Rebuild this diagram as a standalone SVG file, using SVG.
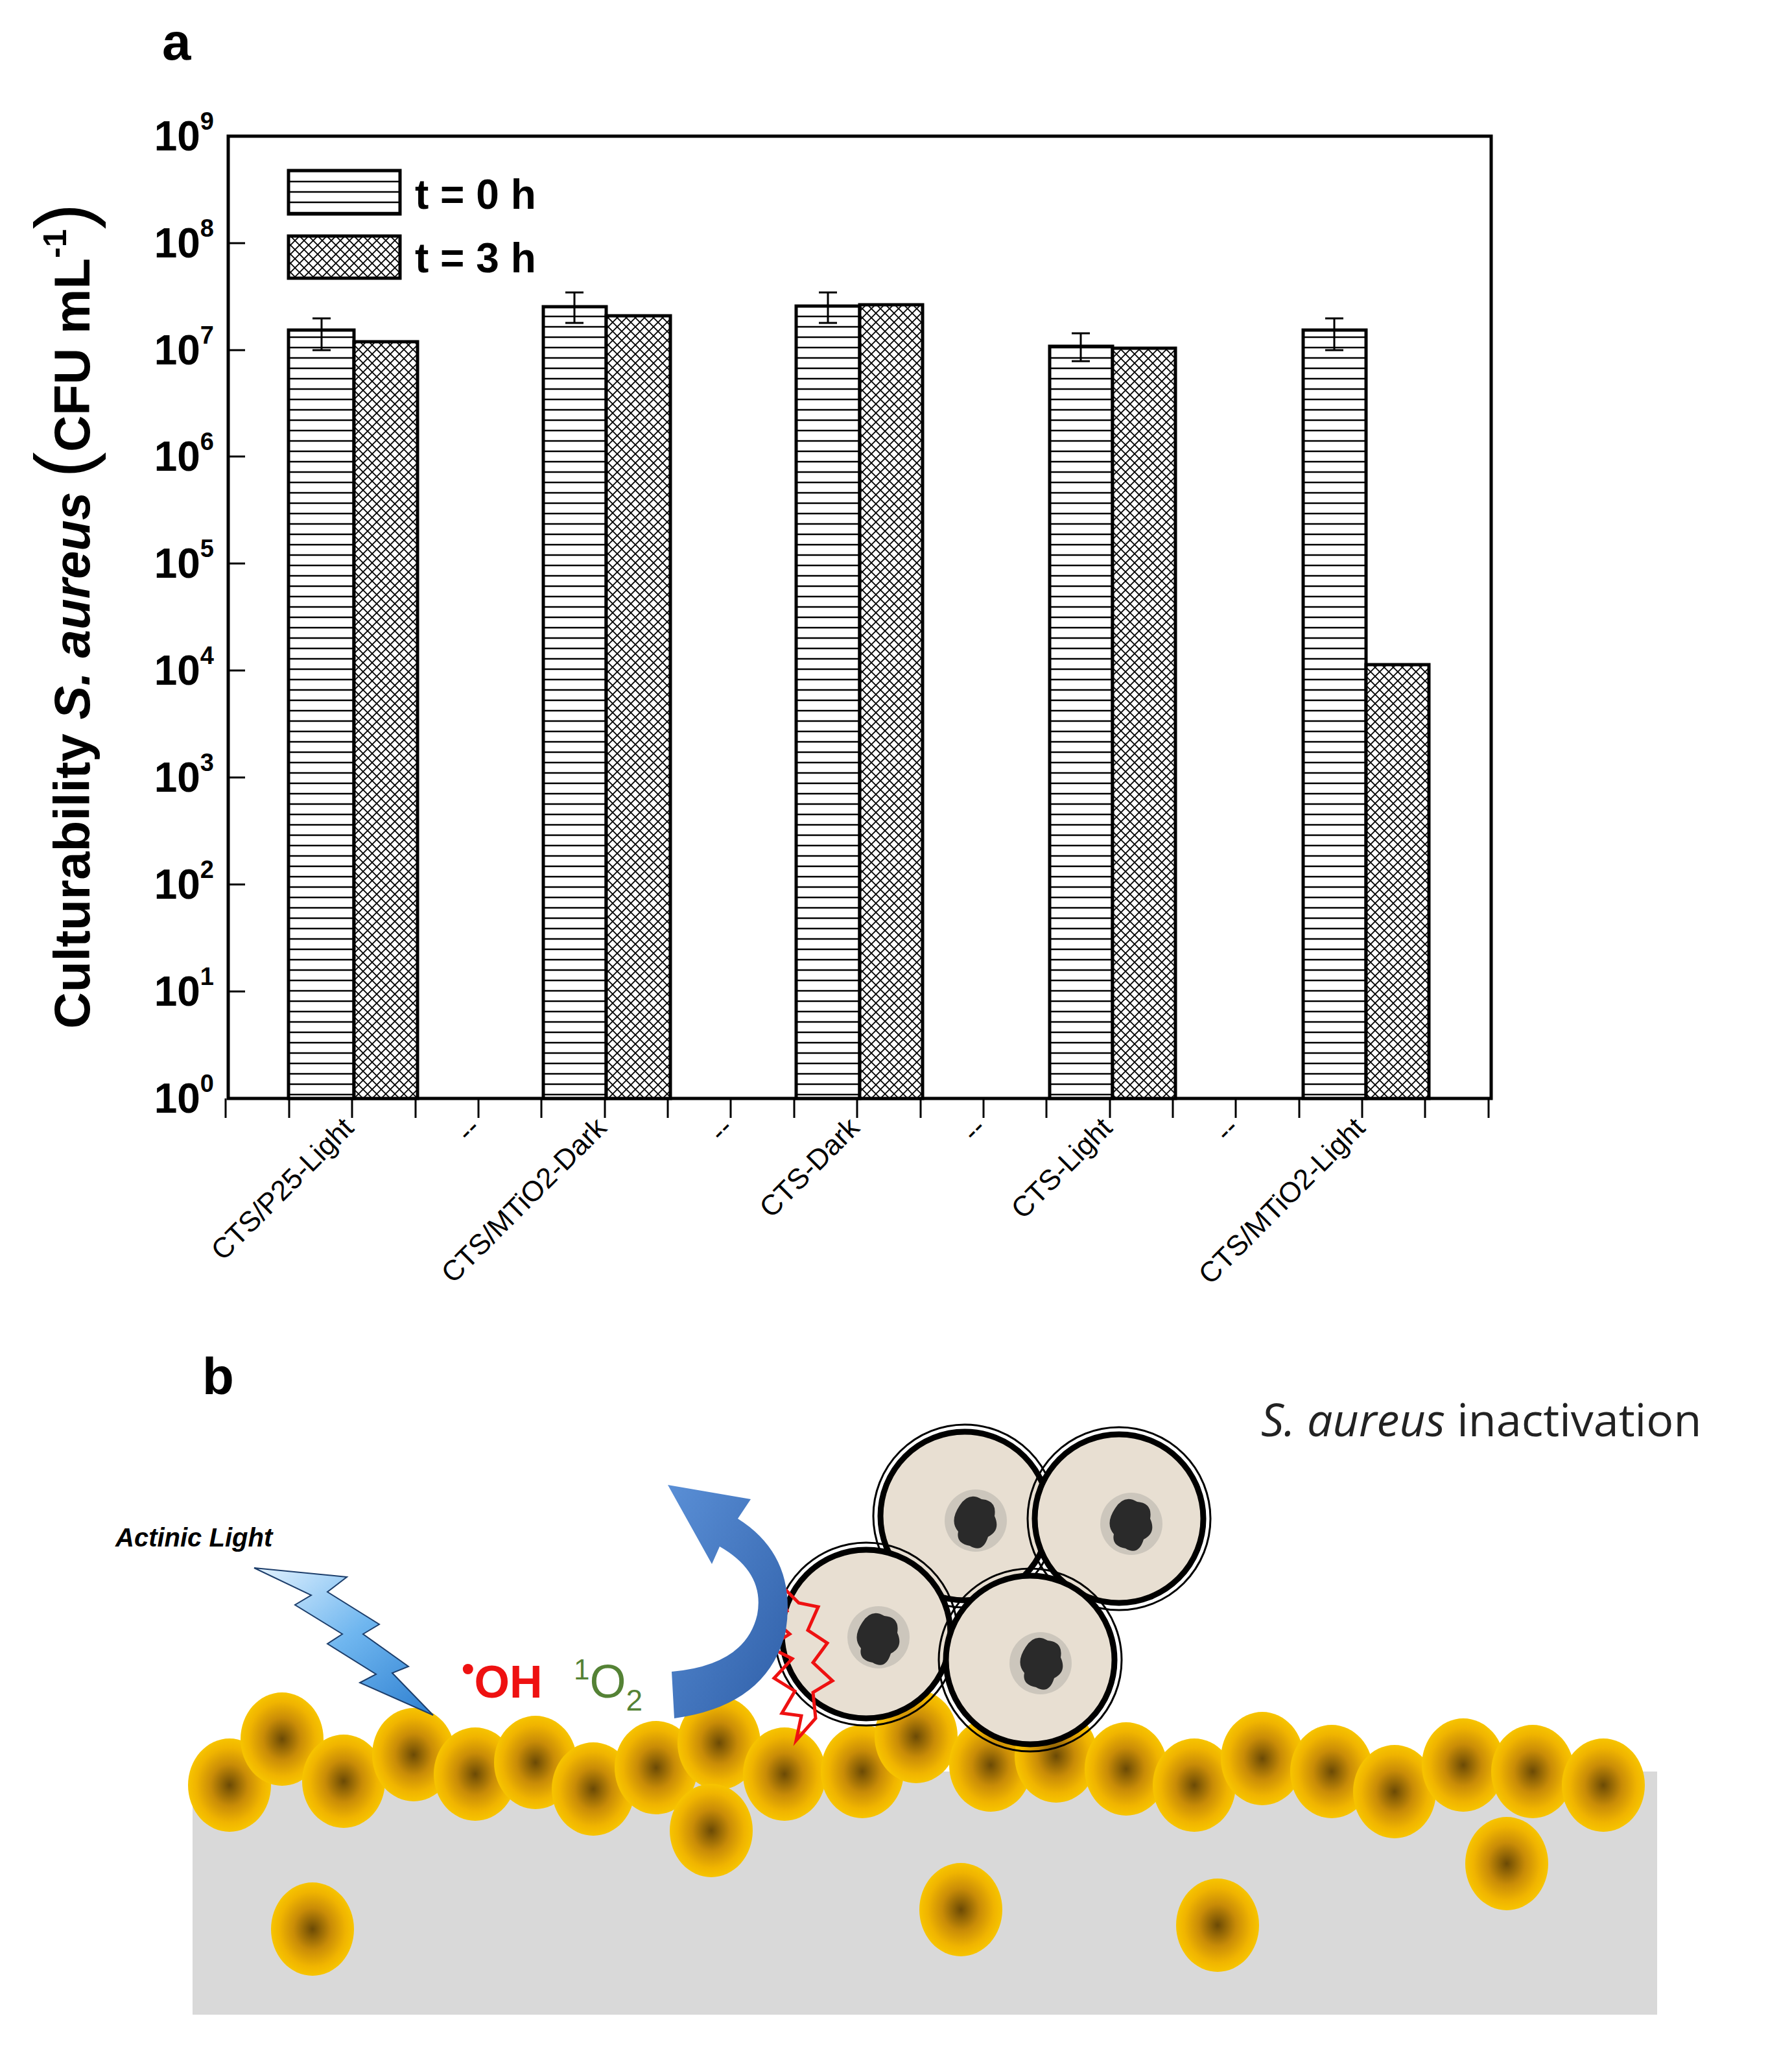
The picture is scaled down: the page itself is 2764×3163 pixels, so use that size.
<svg xmlns="http://www.w3.org/2000/svg" width="2764" height="3163" viewBox="0 0 2764 3163">
<style>
.ax{stroke:#000;stroke-width:5;fill:none}
.tk{stroke:#000;stroke-width:3}
.bar{stroke:#000;stroke-width:5}
.h{fill:url(#hor)}
.x{fill:url(#cross)}
.eb{stroke:#000;stroke-width:3;fill:none}
.yl{font-family:"Liberation Sans",Arial,sans-serif;font-weight:bold;font-size:64px;text-anchor:end}
.sup{font-size:38px}
.xl{font-family:"Liberation Sans",Arial,sans-serif;font-size:44px;text-anchor:end}
.sp{fill:url(#gold)}
.cell{fill:#e8dfd2;stroke:#000;stroke-width:9}
.ring{fill:none;stroke:#000;stroke-width:3}
.nuc{fill:#2a2a2a}
.halo{fill:#b9b5ae;opacity:0.6}
</style>
<defs>
<pattern id="hor" width="20" height="16" patternUnits="userSpaceOnUse"><rect width="20" height="16" fill="#fff"/><line x1="0" y1="8" x2="20" y2="8" stroke="#000" stroke-width="2.5"/></pattern>
<pattern id="cross" width="14" height="14" patternUnits="userSpaceOnUse"><rect width="14" height="14" fill="#fff"/><path d="M0 0L14 14M14 0L0 14" stroke="#000" stroke-width="1.8"/></pattern>
<radialGradient id="gold"><stop offset="0" stop-color="#6b4a05"/><stop offset="0.45" stop-color="#c98c07"/><stop offset="0.8" stop-color="#f0b400"/><stop offset="1" stop-color="#f7c400"/></radialGradient>
<linearGradient id="bolt" x1="0" y1="0" x2="1" y2="1"><stop offset="0" stop-color="#e4f3ff"/><stop offset="0.5" stop-color="#6fb6ef"/><stop offset="1" stop-color="#2e7fd0"/></linearGradient>
<linearGradient id="arr" x1="0" y1="0" x2="1" y2="1"><stop offset="0" stop-color="#5a8fd6"/><stop offset="1" stop-color="#2f5fa8"/></linearGradient>
</defs>
<rect width="2764" height="3163" fill="#fff"/>

<g id="chart">
<text x="250" y="92" font-family="Liberation Sans,Arial,sans-serif" font-weight="bold" font-size="80">a</text>
<rect class="ax" x="352" y="210" width="1948" height="1484"/>
<g id="yticks">
<path class="tk" d="M352 210h26M352 375h26M352 540h26M352 704h26M352 869h26M352 1034h26M352 1199h26M352 1364h26M352 1529h26"/>
</g>
<g id="ylabels">
<text class="yl" x="330" y="232">10<tspan class="sup" dy="-32">9</tspan></text>
<text class="yl" x="330" y="397">10<tspan class="sup" dy="-32">8</tspan></text>
<text class="yl" x="330" y="562">10<tspan class="sup" dy="-32">7</tspan></text>
<text class="yl" x="330" y="726">10<tspan class="sup" dy="-32">6</tspan></text>
<text class="yl" x="330" y="891">10<tspan class="sup" dy="-32">5</tspan></text>
<text class="yl" x="330" y="1056">10<tspan class="sup" dy="-32">4</tspan></text>
<text class="yl" x="330" y="1221">10<tspan class="sup" dy="-32">3</tspan></text>
<text class="yl" x="330" y="1386">10<tspan class="sup" dy="-32">2</tspan></text>
<text class="yl" x="330" y="1551">10<tspan class="sup" dy="-32">1</tspan></text>
<text class="yl" x="330" y="1716">10<tspan class="sup" dy="-32">0</tspan></text>
</g>
<text transform="translate(138 950) rotate(-90)" text-anchor="middle" font-family="Liberation Sans,Arial,sans-serif" font-weight="bold" font-size="78">Culturability <tspan font-style="italic">S. aureus</tspan> <tspan font-size="120" font-weight="normal">(</tspan>CFU mL<tspan font-size="50" dy="-36">-1</tspan><tspan font-size="120" font-weight="normal" dy="36">)</tspan></text>

<g id="legend">
<rect class="bar h" x="445" y="263" width="172" height="67"/>
<rect class="bar x" x="445" y="364" width="172" height="65"/>
<text x="640" y="322" font-family="Liberation Sans,Arial,sans-serif" font-weight="bold" font-size="64">t = 0 h</text>
<text x="640" y="420" font-family="Liberation Sans,Arial,sans-serif" font-weight="bold" font-size="64">t = 3 h</text>
</g>

<g id="bars">
<rect class="bar h" x="445" y="509" width="101" height="1185"/>
<rect class="bar x" x="546" y="527" width="98" height="1167"/>
<rect class="bar h" x="838" y="473" width="97" height="1221"/>
<rect class="bar x" x="935" y="487" width="99" height="1207"/>
<rect class="bar h" x="1228" y="472" width="98" height="1222"/>
<rect class="bar x" x="1326" y="470" width="97" height="1224"/>
<rect class="bar h" x="1619" y="534" width="97" height="1160"/>
<rect class="bar x" x="1716" y="537" width="97" height="1157"/>
<rect class="bar h" x="2010" y="509" width="97" height="1185"/>
<rect class="bar x" x="2107" y="1025" width="97" height="669"/>
</g>
<g id="errorbars">
<path class="eb" d="M496 540V491M482 540h28M482 491h28"/>
<path class="eb" d="M886 498V451M872 498h28M872 451h28"/>
<path class="eb" d="M1277 498V451M1263 498h28M1263 451h28"/>
<path class="eb" d="M1667 557V514M1653 557h28M1653 514h28"/>
<path class="eb" d="M2058 540V491M2044 540h28M2044 491h28"/>
</g>
<g id="xticks">
<path class="tk" d="M348 1694v30M446 1694v30M543 1694v30M641 1694v30M738 1694v30M835 1694v30M933 1694v30M1030 1694v30M1127 1694v30M1225 1694v30M1322 1694v30M1420 1694v30M1517 1694v30M1614 1694v30M1712 1694v30M1809 1694v30M1906 1694v30M2004 1694v30M2101 1694v30M2198 1694v30M2296 1694v30"/>
</g>
<g id="xlabels">
<text class="xl" transform="translate(548 1742) rotate(-45)">CTS/P25-Light</text>
<text class="xl" transform="translate(743 1742) rotate(-45)">--</text>
<text class="xl" transform="translate(938 1742) rotate(-45)">CTS/MTiO2-Dark</text>
<text class="xl" transform="translate(1133 1742) rotate(-45)">--</text>
<text class="xl" transform="translate(1328 1742) rotate(-45)">CTS-Dark</text>
<text class="xl" transform="translate(1523 1742) rotate(-45)">--</text>
<text class="xl" transform="translate(1718 1742) rotate(-45)">CTS-Light</text>
<text class="xl" transform="translate(1913 1742) rotate(-45)">--</text>
<text class="xl" transform="translate(2108 1742) rotate(-45)">CTS/MTiO2-Light</text>
</g>
</g>

<g id="scheme">
<text x="312" y="2150" font-family="Liberation Sans,Arial,sans-serif" font-weight="bold" font-size="80">b</text>
<text x="1945" y="2215" font-family="Open Sans,Noto Sans,sans-serif" font-size="70" fill="#222"><tspan font-style="italic">S. aureus</tspan> inactivation</text>
<rect x="297" y="2732" width="2259" height="375" fill="#d9d9d9"/>
<g id="particles">
<ellipse class="sp" cx="354" cy="2753" rx="64" ry="72"/>
<ellipse class="sp" cx="435" cy="2682" rx="64" ry="72"/>
<ellipse class="sp" cx="530" cy="2747" rx="64" ry="72"/>
<ellipse class="sp" cx="638" cy="2706" rx="64" ry="72"/>
<ellipse class="sp" cx="733" cy="2736" rx="64" ry="72"/>
<ellipse class="sp" cx="826" cy="2718" rx="64" ry="72"/>
<ellipse class="sp" cx="915" cy="2759" rx="64" ry="72"/>
<ellipse class="sp" cx="1012" cy="2726" rx="64" ry="72"/>
<ellipse class="sp" cx="1109" cy="2688" rx="64" ry="72"/>
<ellipse class="sp" cx="1210" cy="2736" rx="64" ry="72"/>
<ellipse class="sp" cx="1330" cy="2732" rx="64" ry="72"/>
<ellipse class="sp" cx="1413" cy="2678" rx="64" ry="72"/>
<ellipse class="sp" cx="1528" cy="2722" rx="64" ry="72"/>
<ellipse class="sp" cx="1629" cy="2708" rx="64" ry="72"/>
<ellipse class="sp" cx="1737" cy="2728" rx="64" ry="72"/>
<ellipse class="sp" cx="1842" cy="2753" rx="64" ry="72"/>
<ellipse class="sp" cx="1947" cy="2712" rx="64" ry="72"/>
<ellipse class="sp" cx="2054" cy="2732" rx="64" ry="72"/>
<ellipse class="sp" cx="2151" cy="2763" rx="64" ry="72"/>
<ellipse class="sp" cx="2257" cy="2722" rx="64" ry="72"/>
<ellipse class="sp" cx="2364" cy="2732" rx="64" ry="72"/>
<ellipse class="sp" cx="2473" cy="2753" rx="64" ry="72"/>
<ellipse class="sp" cx="1097" cy="2823" rx="64" ry="72"/>
<ellipse class="sp" cx="482" cy="2975" rx="64" ry="72"/>
<ellipse class="sp" cx="1482" cy="2945" rx="64" ry="72"/>
<ellipse class="sp" cx="1878" cy="2969" rx="64" ry="72"/>
<ellipse class="sp" cx="2324" cy="2874" rx="64" ry="72"/>
</g>
<g id="cells">
<g><circle cx="1488" cy="2338" r="130" class="cell"/><circle cx="1488" cy="2338" r="141" class="ring"/><circle cx="1505" cy="2345" r="48" class="halo"/><path class="nuc" d="M1480 2322q14-22 34-10q24 2 20 26q10 22-10 32q-8 26-28 14q-22 -4-18-22q-14-16 2-40z"/></g>
<g><circle cx="1726" cy="2342" r="130" class="cell"/><circle cx="1726" cy="2342" r="141" class="ring"/><circle cx="1745" cy="2350" r="48" class="halo"/><path class="nuc" d="M1720 2326q14-22 34-10q24 2 20 26q10 22-10 32q-8 26-28 14q-22 -4-18-22q-14-16 2-40z"/></g>
<g><circle cx="1336" cy="2520" r="130" class="cell"/><circle cx="1336" cy="2520" r="141" class="ring"/><circle cx="1355" cy="2525" r="48" class="halo"/><path class="nuc" d="M1330 2502q14-22 34-10q24 2 20 26q10 22-10 32q-8 26-28 14q-22 -4-18-22q-14-16 2-40z"/></g>
<g><circle cx="1589" cy="2560" r="130" class="cell"/><circle cx="1589" cy="2560" r="141" class="ring"/><circle cx="1605" cy="2565" r="48" class="halo"/><path class="nuc" d="M1582 2540q14-22 34-10q24 2 20 26q10 22-10 32q-8 26-28 14q-22 -4-18-22q-14-16 2-40z"/></g>
</g>
<path id="burst" d="M1200 2440l14 44l-30 6l34 30l-32 20l36 18l-28 30l32 20l-20 34l30 4l-8 38l30-34l-4-40l30-18l-30-28l22-30l-30-20l16-36l-30-6z" fill="#fff" fill-opacity="0" stroke="#ee1111" stroke-width="5"/>
<path id="arrow" d="M1040 2650L1036 2578Q1150 2568 1168 2490Q1180 2425 1110 2385L1098 2412L1030 2290L1158 2312L1138 2342Q1230 2400 1212 2515Q1185 2630 1040 2650Z" fill="url(#arr)"/>
<path id="lightning" d="M392 2418L535 2432L505 2455L585 2505L560 2520L630 2570L605 2580L668 2645L555 2595L580 2582L505 2535L528 2520L455 2475L480 2460Z" fill="url(#bolt)" stroke="#1d3e6b" stroke-width="2"/>
<text x="178" y="2385" font-family="Liberation Sans,Arial,sans-serif" font-weight="bold" font-style="italic" font-size="40">Actinic Light</text>
<text x="712" y="2618" font-family="Liberation Sans,Arial,sans-serif" font-weight="bold" font-size="70" fill="#ee1111"><tspan font-size="56" dy="-26">•</tspan><tspan dy="26">OH</tspan></text>
<text x="885" y="2618" font-family="Liberation Sans,Arial,sans-serif" font-size="72" fill="#548235"><tspan font-size="44" dy="-28">1</tspan><tspan dy="28">O</tspan><tspan font-size="46" dy="20">2</tspan></text>
</g>
</svg>
